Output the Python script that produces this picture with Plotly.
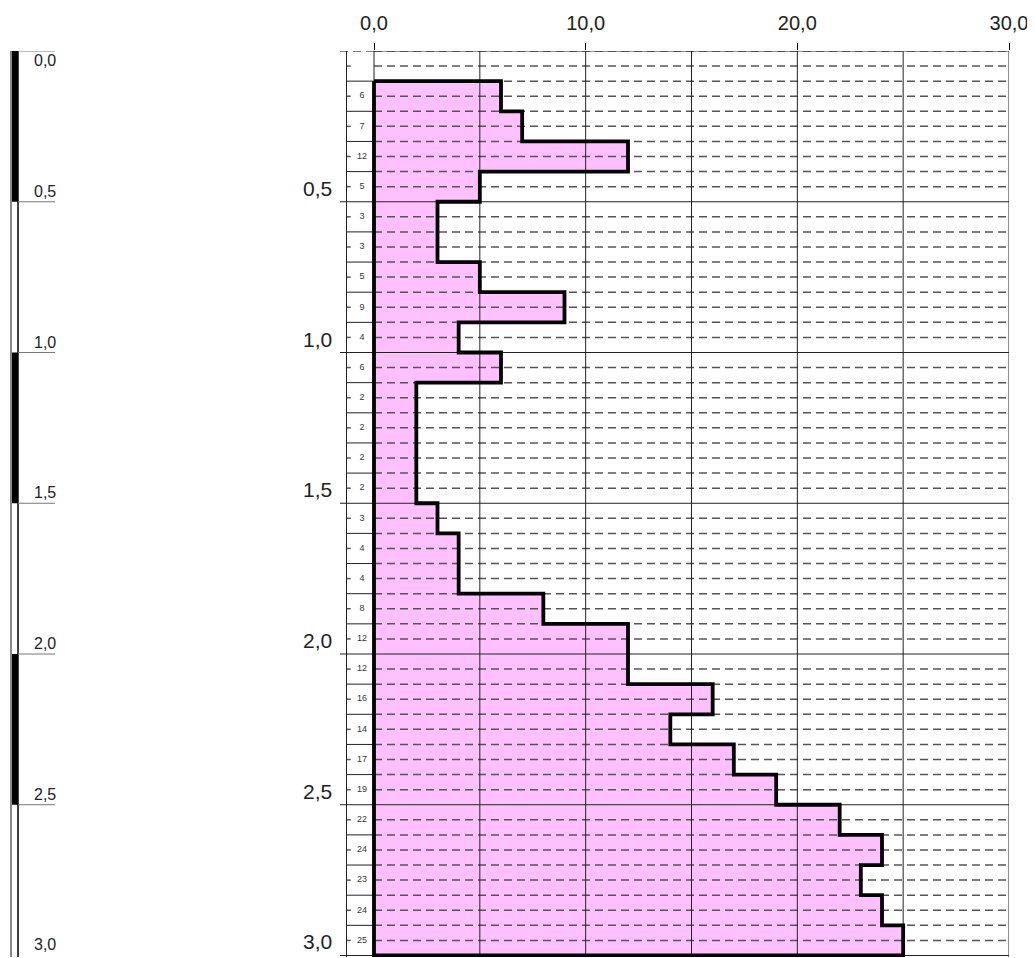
import numpy as np
import plotly.graph_objects as go

# ---- data ----
interval_top = [round(0.1 * i, 1) for i in range(1, 30)]   # depth of interval top (m)
interval_step = 0.1
blows = [6, 7, 12, 5,
         3, 3, 5, 9, 4,
         6, 2, 2, 2, 2,
         3, 4, 4, 8, 12,
         12, 16, 14, 17, 19,
         22, 24, 23, 24, 25]
x_ticks = [0, 10, 20, 30]
depth_marks = [0.0, 0.5, 1.0, 1.5, 2.0, 2.5, 3.0]
max_depth = 3.0

W, H = 1035, 958
OFF = 8  # page body margin
PINK = "#ffc0ff"
FONT = "Liberation Sans, Arial, sans-serif"

# axis geometry (screen pixel -> data)
px_left, px_zero, px_right = 340, 374, 1009
px_top, px_bot = 51, 957
x_per_px = 30.0 / (px_right - px_zero)
x_min = -(px_zero - px_left) * x_per_px
col_left = -(px_zero - 346.5) * x_per_px
col_mid = -(px_zero - 362) * x_per_px


def fx(p):
    return (p - OFF) / W


def fy(p):
    return 1 - (p - OFF) / H


fig = go.Figure()

# step polygon built from data
bottoms = [round(t + interval_step, 1) for t in interval_top]
sx, sy = [0], [interval_top[0]]
for t, b, v in zip(interval_top, bottoms, blows):
    sx += [v, v]
    sy += [t, b]
sx += [0, 0]
sy += [bottoms[-1], interval_top[0]]

fig.add_trace(go.Scatter(x=sx, y=sy, mode="lines", fill="toself", fillcolor=PINK,
                         line=dict(width=0), hoverinfo="skip", showlegend=False))

# dashed grid lines every 0.05 m
dx, dy = [], []
for d in np.round(np.arange(0, max_depth + 1e-9, 0.05), 2):
    if abs(d / 0.5 - round(d / 0.5)) < 1e-6 and d > 0:
        continue
    if d == 0:
        dx += [x_min, 0, None]
        dy += [d, d, None]
    dx += [0, 30, None]
    dy += [d, d, None]
    if abs(d / 0.1 - round(d / 0.1)) > 1e-6:
        dx += [col_left, col_left + 0.2, None]
        dy += [d, d, None]
fig.add_trace(go.Scatter(x=dx, y=dy, mode="lines",
                         line=dict(color="#555555", width=1.5, dash="8px,5px"),
                         hoverinfo="skip", showlegend=False))

# solid grid lines
gx, gy = [], []
for xv in range(0, 31, 5):
    gx += [xv, xv, None]
    gy += [0, max_depth + 0.01, None]
gx += [col_left, col_left, None]
gy += [0, max_depth + 0.01, None]
gx += [0, 30, None]
gy += [0, 0, None]
for d in np.round(np.arange(0.1, max_depth + 1e-9, 0.1), 1):
    if abs(d / 0.5 - round(d / 0.5)) < 1e-6:
        gx += [x_min, 30, None]
    else:
        gx += [col_left, 0, None]
    gy += [d, d, None]
fig.add_trace(go.Scatter(x=gx, y=gy, mode="lines",
                         line=dict(color="#222222", width=1),
                         hoverinfo="skip", showlegend=False))

# step outline
fig.add_trace(go.Scatter(x=sx, y=sy, mode="lines",
                         line=dict(color="black", width=3.8),
                         hoverinfo="skip", showlegend=False))

# blow count labels in the column
fig.add_trace(go.Scatter(x=[col_mid] * len(blows),
                         y=[t + interval_step / 2 for t in interval_top],
                         mode="text", text=[str(v) for v in blows],
                         textfont=dict(size=9, color="#333333", family=FONT),
                         hoverinfo="skip", showlegend=False))

shapes, annotations = [], []
# left depth bar
bx0, bx1 = fx(11), fx(18)
for i in range(len(depth_marks) - 1):
    d0, d1 = depth_marks[i], depth_marks[i + 1]
    if i % 2 == 0:
        shapes.append(dict(type="rect", xref="paper", yref="y", x0=bx0, x1=bx1,
                           y0=d0, y1=d1, fillcolor="black", line=dict(width=0)))
shapes.append(dict(type="line", xref="paper", yref="y", x0=bx0, x1=bx0, y0=0,
                   y1=max_depth + 0.01, line=dict(color="#888888", width=2)))
shapes.append(dict(type="line", xref="paper", yref="y", x0=bx1, x1=bx1, y0=0,
                   y1=max_depth + 0.01, line=dict(color="black", width=1.5)))
for d in depth_marks:
    lab = f"{d:.1f}".replace(".", ",")
    if d < max_depth:
        shapes.append(dict(type="line", xref="paper", yref="y", x0=bx1, x1=fx(55),
                           y0=d, y1=d, line=dict(color="#777777", width=1)))
    annotations.append(dict(xref="paper", yref="y", x=fx(32), y=d, text=lab,
                            showarrow=False, xanchor="left",
                            yanchor="top" if d == 0 else "bottom",
                            yshift=1 if d == 0 else 0,
                            font=dict(size=16, color="#222222", family=FONT)))
    if d > 0:
        annotations.append(dict(xref="paper", yref="y", x=fx(334), y=d, text=lab,
                                showarrow=False, xanchor="right", yanchor="bottom",
                                yshift=0,
                                font=dict(size=21, color="#222222", family=FONT)))

fig.update_layout(
    width=W, height=H,
    margin=dict(l=0, r=0, t=0, b=0, pad=0),
    paper_bgcolor="white", plot_bgcolor="white",
    separators=",.",
    shapes=shapes, annotations=annotations,
    xaxis=dict(domain=[fx(px_left), fx(px_right)], range=[x_min, 30], side="top",
               tickvals=x_ticks, tickformat=".1f", ticks="outside", ticklen=7,
               tickcolor="black", tickwidth=1, showgrid=False, zeroline=False,
               showline=False, automargin=False, ticklabelstandoff=5,
               tickfont=dict(size=20, color="#222222", family=FONT)),
    yaxis=dict(domain=[fy(px_bot), fy(px_top)], range=[max_depth + 0.005, 0],
               visible=False, showgrid=False, zeroline=False, automargin=False),
    showlegend=False,
)

fig.write_html("out.html",
               post_script="document.documentElement.style.overflow='hidden';"
                           "document.body.style.overflow='hidden';")
